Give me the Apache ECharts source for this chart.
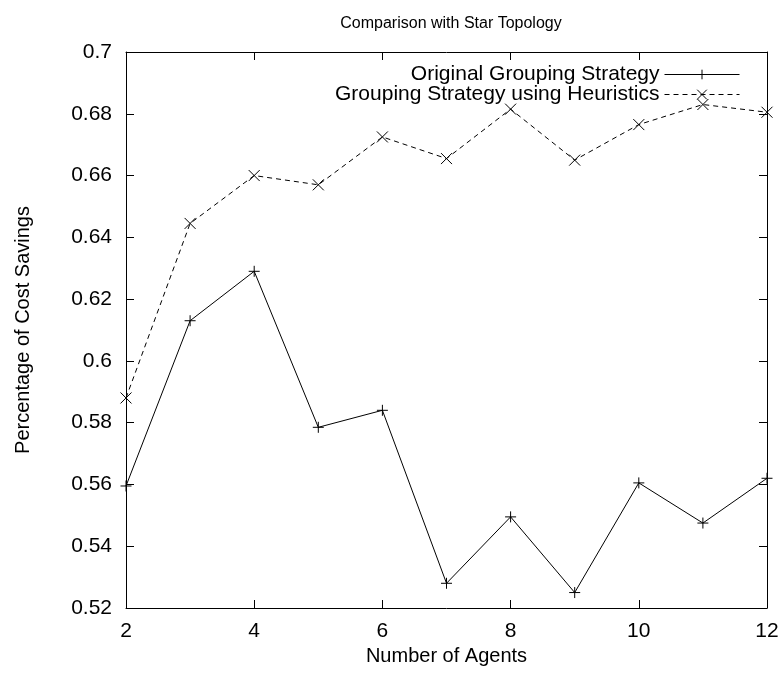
<!DOCTYPE html>
<html>
<head>
<meta charset="utf-8">
<script src="https://cdn.jsdelivr.net/npm/echarts@6/dist/echarts.min.js"></script>
<style>html,body{margin:0;padding:0;background:#fff}#c{width:784px;height:680px}</style>
</head>
<body>
<div id="c"></div>
<script>
const agents = [2, 3, 4, 5, 6, 7, 8, 9, 10, 11, 12];
const originalValues = [0.5595, 0.613, 0.629, 0.5785, 0.584, 0.528, 0.5495, 0.525, 0.5605, 0.5475, 0.562];
const heuristicValues = [0.588, 0.6445, 0.660, 0.657, 0.6725, 0.6655, 0.6815, 0.665, 0.6765, 0.683, 0.6805];
const xTicks = [2, 4, 6, 8, 10, 12];
const yTicks = [0.52, 0.54, 0.56, 0.58, 0.6, 0.62, 0.64, 0.66, 0.68, 0.7];
const seriesNames = ['Original Grouping Strategy', 'Grouping Strategy using Heuristics'];

const FONT = 'Liberation Sans, Arial, sans-serif';
const plus = 'path://M0,5L10,5M5,0L5,10';
const cross = 'path://M0,0L10,10M10,0L0,10';

const chart = echarts.init(document.getElementById('c'), null, {renderer: 'canvas'});
const fmtY = v => String(+(+v).toFixed(2));
const axisCommon = {
  axisLine: {show: true, lineStyle: {color: '#000', width: 1}},
  axisTick: {show: true, inside: true, length: 8, lineStyle: {color: '#000'}},
  splitLine: {show: false}
};
const legendCommon = {
  align: 'right', orient: 'vertical', right: 39,
  itemWidth: 75, itemHeight: 12, itemGap: 0,
  lineStyle: {width: 1},
  itemStyle: {borderWidth: 1},
  textStyle: {fontFamily: FONT, fontSize: 21, color: '#000'}
};
chart.setOption({
  animation: false,
  backgroundColor: '#fff',
  textStyle: {fontFamily: FONT},
  title: {
    text: 'Comparison with Star Topology',
    left: 446, top: 11, textAlign: 'center',
    textStyle: {fontFamily: FONT, fontSize: 16, fontWeight: 'normal', color: '#000'}
  },
  legend: [
    Object.assign({}, legendCommon, {data: [seriesNames[0]], top: 59}),
    Object.assign({}, legendCommon, {data: [seriesNames[1]], top: 79})
  ],
  grid: {left: 126, right: 17, top: 52, bottom: 72, containLabel: false},
  xAxis: [
    Object.assign({}, axisCommon, {
      type: 'value', min: 2, max: 12, interval: 2, position: 'bottom',
      name: 'Number of Agents', nameLocation: 'middle', nameGap: 35,
      nameTextStyle: {fontFamily: FONT, fontSize: 20, color: '#000'},
      axisLabel: {color: '#000', fontFamily: FONT, fontSize: 21, margin: 13,
        customValues: xTicks}
    }),
    Object.assign({}, axisCommon, {
      type: 'value', min: 2, max: 12, interval: 2, position: 'top',
      axisLabel: {show: false}
    })
  ],
  yAxis: [
    Object.assign({}, axisCommon, {
      type: 'value', min: 0.52, max: 0.7, interval: 0.02, position: 'left',
      name: 'Percentage of Cost Savings', nameLocation: 'middle', nameGap: 93,
      nameTextStyle: {fontFamily: FONT, fontSize: 20, color: '#000'},
      axisLabel: {color: '#000', fontFamily: FONT, fontSize: 21, margin: 14, formatter: fmtY}
    }),
    Object.assign({}, axisCommon, {
      type: 'value', min: 0.52, max: 0.7, interval: 0.02, position: 'right',
      axisLabel: {show: false}
    })
  ],
  series: [
    {
      name: seriesNames[0], type: 'line',
      data: agents.map((a, i) => [a, originalValues[i]]),
      symbol: plus, symbolSize: 11, showSymbol: true,
      lineStyle: {color: '#000', width: 1},
      itemStyle: {color: '#000', borderColor: '#000', borderWidth: 1},
      emphasis: {disabled: true}
    },
    {
      name: seriesNames[1], type: 'line',
      data: agents.map((a, i) => [a, heuristicValues[i]]),
      symbol: cross, symbolSize: 11, showSymbol: true,
      lineStyle: {color: '#000', width: 1, type: [5, 4]},
      itemStyle: {color: '#000', borderColor: '#000', borderWidth: 1},
      emphasis: {disabled: true}
    }
  ]
});
</script>
</body>
</html>
